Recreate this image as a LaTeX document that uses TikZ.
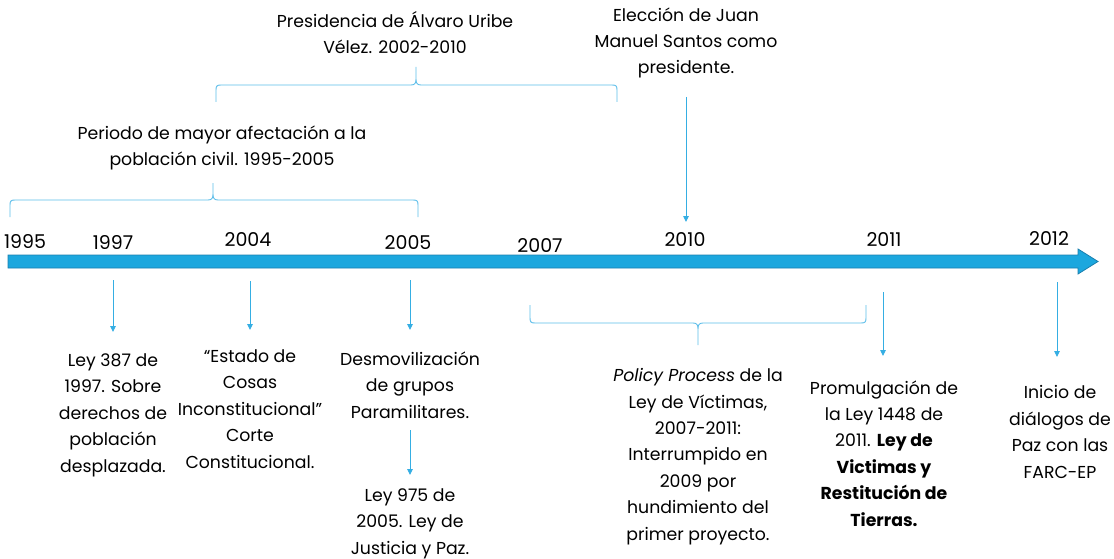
\documentclass[tikz,border=0pt]{standalone}
\usepackage{fontspec}
\setmainfont{Poppins}
\usetikzlibrary{arrows.meta}
\definecolor{barblue}{HTML}{1CA7DE}
\definecolor{baredge}{HTML}{1A7FAE}
\definecolor{arrblue}{HTML}{35AEE3}
\definecolor{brblue}{HTML}{5CBDE9}
\newcommand\upbrace[6]{% x1, xc, x2, yline, yend, ytip
  \draw[br] (#1,#5) -- (#1,#4+5) .. controls (#1,#4+1) and (#1+1,#4) .. (#1+5,#4)
    -- (#2-5,#4) .. controls (#2-1,#4) and (#2,#4-2) .. (#2,#4-6) -- (#2,#6)
    (#2,#4-6) .. controls (#2,#4-2) and (#2+1,#4) .. (#2+5,#4)
    -- (#3-5,#4) .. controls (#3-1,#4) and (#3,#4+1) .. (#3,#4+5) -- (#3,#5);}
\newcommand\downbrace[6]{% x1, xc, x2, yline, yend, ytip
  \draw[br] (#1,#5) -- (#1,#4-5) .. controls (#1,#4-1) and (#1+1,#4) .. (#1+5,#4)
    -- (#2-5,#4) .. controls (#2-1,#4) and (#2,#4+2) .. (#2,#4+6) -- (#2,#6)
    (#2,#4+6) .. controls (#2,#4+2) and (#2+1,#4) .. (#2+5,#4)
    -- (#3-5,#4) .. controls (#3-1,#4) and (#3,#4-1) .. (#3,#4-5) -- (#3,#5);}
\begin{document}
\begin{tikzpicture}[x=1pt,y=-1pt,
  yr/.style={font=\fontsize{19}{22}\selectfont, inner sep=0pt, anchor=center},
  txt/.style={font=\fontsize{17.3}{26.4}\selectfont, align=center, inner sep=0pt, anchor=base},
  dn/.style={draw=arrblue, line width=0.9pt, -{Triangle[length=6pt,width=5.5pt]}},
  br/.style={draw=brblue, line width=0.9pt}]
\useasboundingbox (0,0) rectangle (1114,559);
% main timeline arrow
\filldraw[fill=barblue, draw=baredge, line width=0.8pt]
  (8,255) -- (1078,255) -- (1078,249) -- (1098,261.5) -- (1078,274) -- (1078,268) -- (8,268) -- cycle;
% years
\node[yr] (y1995) at (25,242) {1995};
\node[yr] (y1997) at (113,243) {1997};
\node[yr] (y2004) at (248,240) {2004};
\node[yr] (y2005) at (408,243) {2005};
\node[yr] (y2007) at (540,246) {2007};
\node[yr] (y2010) at (685,240) {2010};
\node[yr] (y2011) at (884,240) {2011};
\node[yr] (y2012) at (1049,239) {2012};
% braces
\upbrace{10}{213}{418}{200}{217}{183}
\upbrace{216}{416}{617}{85}{102}{67}
\downbrace{530}{698}{866}{323}{305}{345}
% top texts (anchored at the baseline of the last line)
\node[txt] (tper) at (222,166) {Periodo de mayor afectación a la\\población civil. 1995-2005};
\node[txt] (tpre) at (395,54) {Presidencia de Álvaro Uribe\\Vélez. 2002-2010};
\node[txt] (tele) at (686,74) {Elección de Juan\\Manuel Santos como\\presidente.};
\coordinate (e1) at (686,97);
\coordinate (e2) at (686,222);
\draw[dn] (e1) -- (e2);
% bottom texts
\node[txt] (t1997) at (113,472) {Ley 387 de\\1997. Sobre\\derechos de\\población\\desplazada.};
\node[txt] (t2004) at (250,468) {“Estado de\\Cosas\\Inconstitucional”\\Corte\\Constitucional.};
\node[txt] (t2005a) at (410,418) {Desmovilización\\de grupos\\Paramilitares.};
\node[txt] (t2005b) at (410,554) {Ley 975 de\\2005. Ley de\\Justicia y Paz.};
\node[txt] (tpol) at (698,540) {\emph{Policy Process} de la\\Ley de Víctimas,\\2007-2011:\\Interrumpido en\\2009 por\\hundimiento del\\primer proyecto.};
\node[txt] (t2011) at (884,526) {Promulgación de\\la Ley 1448 de\\2011. \textbf{Ley de}\\\textbf{Victimas y}\\\textbf{Restitución de}\\\textbf{Tierras.}};
\node[txt] (t2012) at (1060,478) {Inicio de\\diálogos de\\Paz con las\\FARC-EP};
% down arrows
\coordinate (a1s) at (113,280); \coordinate (a1e) at (113,332);
\coordinate (a2s) at (250,281); \coordinate (a2e) at (250,330);
\coordinate (a3s) at (410,280); \coordinate (a3e) at (410,330);
\coordinate (a4s) at (410,430); \coordinate (a4e) at (410,475);
\coordinate (a5s) at (883,292); \coordinate (a5e) at (883,356);
\coordinate (a6s) at (1057,282); \coordinate (a6e) at (1057,357);
\draw[dn] (a1s) -- (a1e);
\draw[dn] (a2s) -- (a2e);
\draw[dn] (a3s) -- (a3e);
\draw[dn] (a4s) -- (a4e);
\draw[dn] (a5s) -- (a5e);
\draw[dn] (a6s) -- (a6e);
\end{tikzpicture}
\end{document}
